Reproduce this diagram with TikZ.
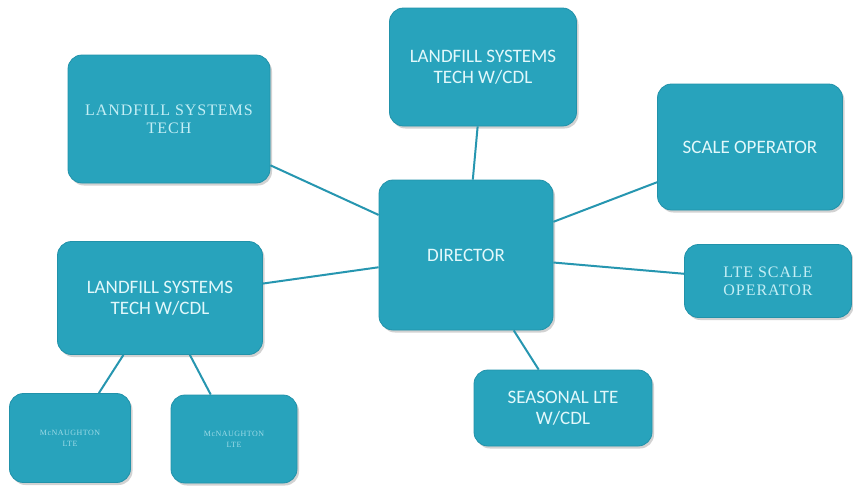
\documentclass[tikz,border=0pt]{standalone}
\usepackage{fontspec}
\setmainfont{Carlito}
\newfontfamily\titleserif[LetterSpace=6]{Liberation Serif}
\usetikzlibrary{shadows}

\definecolor{boxfill}{RGB}{40,163,188}
\definecolor{boxedge}{RGB}{33,146,170}
\definecolor{linkcol}{RGB}{38,150,176}
\definecolor{sanstext}{RGB}{226,248,251}
\definecolor{seriftext}{RGB}{196,238,245}

\tikzset{
  orgbox/.style={rectangle, rounded corners=14pt, fill=boxfill, draw=boxedge,
    line width=0.8pt, align=center, inner sep=0pt,
    drop shadow={opacity=0.35, shadow xshift=2pt, shadow yshift=-2.5pt}},
  sanslabel/.style={text=sanstext, font=\fontsize{19}{21}\selectfont},
  seriflabel/.style={text=seriftext, font=\titleserif\fontsize{16}{18}\selectfont},
  smalllabel/.style={text=seriftext!75!boxfill, font=\titleserif\fontsize{8}{11}\selectfont},
  link/.style={draw=linkcol, line width=2pt}
}

\begin{document}
\begin{tikzpicture}[x=1pt, y=-1pt]
  \useasboundingbox[fill=white] (0,0) rectangle (853,485);

  % people
  \node[orgbox, seriflabel, minimum width=202pt, minimum height=128pt] (tech) at (169,119)
    {LANDFILL SYSTEMS\\TECH};
  \node[orgbox, sanslabel, minimum width=187pt, minimum height=118pt] (techcdl) at (483,67)
    {LANDFILL SYSTEMS\\TECH W/CDL};
  \node[orgbox, sanslabel, minimum width=185pt, minimum height=126pt] (scale) at (750,147)
    {SCALE OPERATOR};
  \node[orgbox, sanslabel, minimum width=174pt, minimum height=150pt] (dir) at (466,255)
    {DIRECTOR};
  \node[orgbox, seriflabel, minimum width=167pt, minimum height=73pt] (lte) at (768,281)
    {LTE SCALE\\OPERATOR};
  \node[orgbox, sanslabel, minimum width=205pt, minimum height=113pt] (leftcdl) at (160,298)
    {LANDFILL SYSTEMS\\TECH W/CDL};
  \node[orgbox, sanslabel, minimum width=178pt, minimum height=76pt] (seasonal) at (563,408)
    {SEASONAL LTE\\W/CDL};
  \node[orgbox, smalllabel, minimum width=121pt, minimum height=89pt] (mcn1) at (70,438)
    {McNAUGHTON\\LTE};
  \node[orgbox, smalllabel, minimum width=126pt, minimum height=88pt] (mcn2) at (234,439)
    {McNAUGHTON\\LTE};

  % reporting lines
  \draw[link] (dir) -- (tech);
  \draw[link] (dir) -- (techcdl);
  \draw[link] (dir) -- (scale);
  \draw[link] (dir) -- (lte);
  \draw[link] (dir) -- (leftcdl);
  \draw[link] (dir) -- (seasonal);
  \draw[link] (leftcdl) -- (mcn1);
  \draw[link] (leftcdl) -- (mcn2);
\end{tikzpicture}
\end{document}
